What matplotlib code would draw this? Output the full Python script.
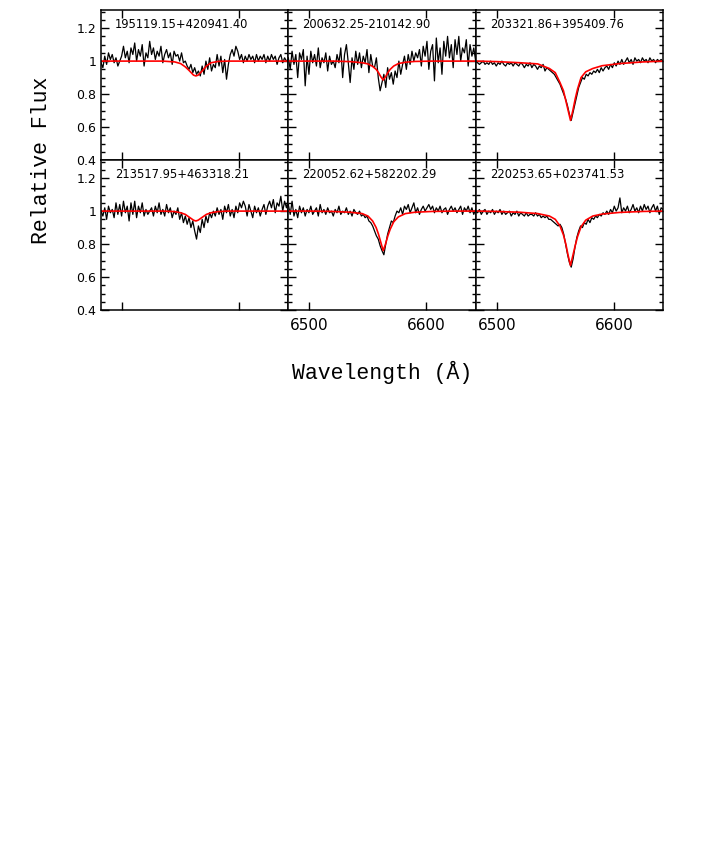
import numpy as np
import matplotlib
matplotlib.use("Agg")
import matplotlib.pyplot as plt
from matplotlib.ticker import MultipleLocator, FixedLocator

# ---------------- data ----------------
names = ["195119.15+420941.40", "200632.25-210142.90", "203321.86+395409.76",
         "213517.95+463318.21", "220052.62+582202.29", "220253.65+023741.53"]

# observed wavelength grid (Angstrom), 1.6 A sampling
WAVE = np.linspace(6482.0, 6642.0, 101)

flux1 = [0.99, 0.96, 1.03, 0.98, 1.05, 1.01, 1.04, 0.99, 1.02, 0.97,
         1.00, 1.03, 1.09, 1.02, 1.06, 0.99, 1.08, 1.04, 1.11, 1.00,
         1.07, 1.03, 1.10, 0.97, 1.05, 1.02, 1.12, 1.04, 1.08, 1.01,
         1.06, 1.03, 1.09, 0.99, 1.04, 1.07, 1.02, 1.05, 0.98, 1.06,
         1.03, 1.04, 1.00, 1.05, 0.99, 1.00, 0.97, 0.95, 0.98, 0.93,
         0.96, 0.92, 0.94, 0.91, 0.97, 0.92, 1.00, 0.95, 1.02, 0.94,
         0.98, 0.96, 1.04, 0.97, 1.03, 0.93, 1.01, 0.89, 0.98, 1.04,
         1.07, 1.03, 1.09, 1.06, 1.01, 1.04, 0.99, 1.03, 1.00, 1.04,
         1.01, 1.03, 0.99, 1.04, 1.00, 1.03, 1.01, 1.04, 0.99, 1.03,
         1.00, 1.04, 1.01, 1.03, 0.98, 1.02, 1.04, 0.99, 1.02, 1.00, 1.01]

flux2 = [1.02, 0.95, 1.06, 0.98, 1.04, 0.90, 1.05, 1.01, 1.07, 0.85,
         1.03, 0.92, 1.06, 0.99, 1.04, 0.97, 1.08, 0.96, 1.02, 0.99,
         1.05, 0.94, 1.03, 0.98, 1.00, 0.96, 1.04, 0.99, 1.08, 0.90,
         1.04, 1.10, 0.99, 0.87, 1.02, 0.95, 1.06, 0.98, 1.05, 0.96,
         1.03, 0.99, 1.07, 0.93, 1.04, 0.97, 0.96, 1.02, 0.90, 0.82,
         0.87, 0.92, 0.84, 0.96, 0.89, 0.93, 0.86, 0.94, 0.90, 1.00,
         0.92, 0.98, 1.03, 0.95, 1.04, 0.98, 1.06, 1.00, 1.05, 1.02,
         1.07, 0.97, 1.09, 1.03, 1.12, 0.95, 1.06, 1.10, 0.88, 1.14,
         0.99, 1.08, 0.92, 1.12, 1.03, 1.15, 1.02, 1.10, 0.96, 1.13,
         1.04, 1.15, 1.00, 1.08, 1.05, 1.13, 0.97, 1.10, 1.03, 1.08, 1.00]

flux3 = [1.00, 0.99, 0.98, 0.99, 1.00, 0.98, 0.99, 0.98, 1.00, 0.98,
         0.99, 0.97, 0.99, 0.98, 1.00, 0.98, 0.97, 0.99, 0.98, 0.99,
         0.97, 0.99, 0.98, 0.97, 0.99, 0.98, 0.96, 0.98, 0.97, 0.99,
         0.96, 0.98, 0.97, 0.95, 0.97, 0.96, 0.98, 0.94, 0.96, 0.95,
         0.94, 0.93, 0.92, 0.90, 0.88, 0.86, 0.83, 0.80, 0.77, 0.73,
         0.68, 0.64, 0.69, 0.74, 0.79, 0.84, 0.87, 0.90, 0.89, 0.92,
         0.91, 0.93, 0.92, 0.94, 0.93, 0.95, 0.93, 0.96, 0.94, 0.96,
         0.97, 0.95, 0.98, 0.96, 0.99, 0.97, 1.00, 0.98, 1.01, 0.98,
         1.00, 1.02, 0.99, 1.01, 0.98, 1.02, 1.00, 1.01, 0.99, 1.02,
         1.00, 1.01, 0.99, 1.02, 1.00, 1.01, 0.99, 1.01, 1.00, 1.01, 1.00]

flux4 = [1.00, 0.97, 1.02, 0.95, 1.03, 0.99, 1.01, 0.96, 1.05, 0.98,
         1.04, 0.97, 1.06, 0.99, 1.03, 0.94, 1.05, 0.98, 1.06, 0.96,
         1.03, 0.99, 1.05, 0.97, 1.01, 0.98, 1.00, 1.02, 0.97, 1.03,
         0.99, 1.05, 0.98, 1.01, 0.97, 1.04, 0.99, 1.02, 0.96, 1.00,
         0.98, 1.02, 0.95, 0.99, 0.93, 0.97, 0.92, 0.96, 0.90, 0.94,
         0.88, 0.83, 0.91, 0.87, 0.95, 0.90, 0.97, 0.93, 0.99, 0.96,
         1.00, 0.97, 1.02, 0.98, 1.01, 0.95, 1.03, 0.99, 1.04, 0.97,
         1.01, 0.96, 1.03, 0.99, 1.05, 1.02, 1.06, 1.03, 0.97, 1.04,
         1.00, 0.96, 1.03, 0.99, 1.02, 0.97, 1.01, 1.04, 0.98, 1.03,
         1.06, 1.02, 1.07, 0.99, 1.05, 1.03, 1.09, 1.00, 1.06, 1.02, 1.08]

flux5 = [1.04, 0.98, 1.06, 0.97, 1.01, 0.96, 1.03, 0.99, 1.02, 0.97,
         1.01, 0.99, 1.03, 0.98, 1.00, 1.02, 0.97, 1.04, 0.99, 1.01,
         0.98, 1.02, 0.99, 1.00, 0.97, 1.01, 0.99, 1.03, 0.98, 1.00,
         0.99, 1.02, 0.98, 1.00, 0.97, 1.01, 0.99, 0.98, 1.00, 0.97,
         0.98, 0.96, 0.97, 0.94, 0.93, 0.91, 0.88, 0.85, 0.83, 0.79,
         0.76, 0.735, 0.80, 0.86, 0.90, 0.94, 0.93, 0.97, 1.00, 0.99,
         1.02, 0.98, 1.03, 1.01, 1.04, 0.99, 1.02, 1.05, 0.99, 1.02,
         0.98, 1.01, 1.03, 1.00, 1.02, 1.04, 1.01, 1.03, 0.99, 1.02,
         1.00, 1.03, 0.99, 1.01, 1.02, 0.98, 1.01, 1.03, 1.00, 1.02,
         0.99, 1.01, 1.03, 0.98, 1.02, 1.00, 1.03, 0.99, 1.02, 0.98, 1.01]

flux6 = [1.00, 0.99, 1.01, 0.98, 1.00, 1.01, 0.98, 1.00, 0.99, 1.01,
         0.98, 1.00, 0.99, 1.01, 0.98, 1.00, 0.98, 0.99, 1.00, 0.97,
         0.99, 0.98, 1.00, 0.97, 0.99, 0.98, 0.97, 0.99, 0.97, 0.98,
         0.98, 0.97, 0.99, 0.97, 0.98, 0.96, 0.97, 0.96, 0.97, 0.95,
         0.95, 0.94, 0.93, 0.92, 0.91, 0.92, 0.90, 0.86, 0.80, 0.74,
         0.69, 0.66, 0.71, 0.78, 0.84, 0.88, 0.91, 0.90, 0.93, 0.92,
         0.95, 0.93, 0.96, 0.95, 0.97, 0.96, 0.98, 0.97, 0.99, 0.98,
         1.00, 0.98, 1.01, 0.99, 1.03, 1.00, 1.02, 1.08, 0.99, 1.02,
         1.00, 1.03, 0.99, 1.01, 1.04, 1.00, 1.02, 0.99, 1.03, 1.00,
         1.04, 1.01, 1.03, 0.99, 1.02, 1.04, 1.00, 1.03, 0.98, 1.02, 1.01]

# model (red) profiles sampled on a coarse wavelength grid
MODEL_WAVE = [6482, 6500, 6520, 6535, 6545, 6550, 6554, 6557, 6559, 6561, 6563,
              6565, 6567, 6569, 6572, 6576, 6582, 6590, 6605, 6625, 6642]
model1 = [1.0, 1.0, 1.0, 1.0, 0.995, 0.985, 0.965, 0.945, 0.93, 0.915, 0.91,
          0.915, 0.93, 0.945, 0.97, 0.99, 0.998, 1.0, 1.0, 1.0, 1.0]
model2 = [1.0, 1.0, 1.0, 0.997, 0.99, 0.983, 0.968, 0.95, 0.93, 0.905, 0.885,
          0.905, 0.93, 0.95, 0.97, 0.985, 0.993, 0.998, 1.0, 1.0, 1.0]
model3 = [1.0, 0.997, 0.99, 0.983, 0.955, 0.93, 0.87, 0.82, 0.76, 0.70, 0.64,
          0.70, 0.77, 0.83, 0.90, 0.935, 0.955, 0.972, 0.985, 0.995, 1.0]
model4 = [1.0, 1.0, 1.0, 1.0, 0.997, 0.99, 0.98, 0.965, 0.955, 0.945, 0.94,
          0.945, 0.955, 0.965, 0.98, 0.99, 0.997, 1.0, 1.0, 1.0, 1.0]
model5 = [1.0, 1.0, 0.998, 0.993, 0.985, 0.97, 0.94, 0.90, 0.86, 0.81, 0.76,
          0.80, 0.85, 0.89, 0.935, 0.965, 0.985, 0.993, 0.998, 1.0, 1.0]
model6 = [1.0, 0.998, 0.993, 0.985, 0.97, 0.95, 0.91, 0.855, 0.80, 0.73, 0.67,
          0.73, 0.79, 0.845, 0.905, 0.945, 0.97, 0.982, 0.992, 0.998, 1.0]

fluxes = [flux1, flux2, flux3, flux4, flux5, flux6]
models = [model1, model2, model3, model4, model5, model6]

ytick_vals = [0.4, 0.6, 0.8, 1.0, 1.2]
ytick_labels = ["0.4", "0.6", "0.8", "1", "1.2"]
xtick_vals = [6500, 6600]
xtick_labels = ["6500", "6600"]

# ---------------- figure ----------------
W, H = 702, 859
fig = plt.figure(figsize=(W / 100, H / 100), dpi=100)

x0, x1 = 101, 663
ytop, ymid, ybot = 10, 160, 310
pw = (x1 - x0) / 3.0

for k in range(6):
    r, c = divmod(k, 3)
    left = (x0 + c * pw) / W
    top_px = ytop if r == 0 else ymid
    bottom = 1 - (top_px + 150) / H
    ax = fig.add_axes([left, bottom, pw / W, 150 / H])
    ax.plot(WAVE, fluxes[k], color="black", lw=0.9)
    ax.plot(MODEL_WAVE, models[k], color="red", lw=1.2)
    ax.set_xlim(6482, 6642)
    ax.set_ylim(0.4, 1.31)
    ax.yaxis.set_major_locator(FixedLocator(ytick_vals))
    ax.yaxis.set_minor_locator(MultipleLocator(0.05))
    ax.xaxis.set_major_locator(FixedLocator(xtick_vals))
    ax.tick_params(axis="both", which="both", direction="in",
                   top=True, right=True, width=1.0, color="black")
    ax.tick_params(axis="both", which="major", length=5.5)
    ax.tick_params(axis="y", which="minor", length=3)
    ax.tick_params(axis="y", which="major", pad=3.5, labelsize=9)
    ax.tick_params(axis="x", which="major", pad=6, labelsize=11)
    for s in ax.spines.values():
        s.set_linewidth(1.1)
    if c == 0:
        ax.set_yticklabels(ytick_labels)
    else:
        ax.set_yticklabels([])
    if r == 1 and c > 0:
        ax.set_xticklabels(xtick_labels)
    else:
        ax.set_xticklabels([])
    ax.text(0.075, 0.905, names[k], transform=ax.transAxes, ha="left",
            va="center", fontsize=8.3, family="DejaVu Sans")

fig.text(42 / W, 1 - 160 / H, "Relative Flux", rotation=90, ha="center",
         va="center", fontsize=15.5, family=["Liberation Mono", "DejaVu Sans Mono"])
fig.text(382 / W, 1 - 372 / H, "Wavelength (Å)", ha="center", va="center",
         fontsize=15.5, family=["Liberation Mono", "DejaVu Sans Mono"])

fig.savefig("out.png", dpi=100)
